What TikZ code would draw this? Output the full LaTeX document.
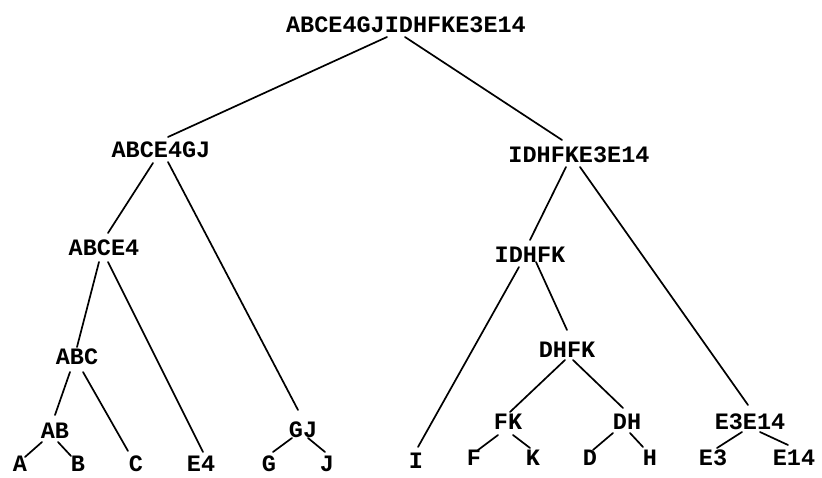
\documentclass[tikz,border=0pt]{standalone}
\usepackage{fontspec}
\setmonofont{Liberation Mono}
\begin{document}
\begin{tikzpicture}[x=1pt,y=-1pt,
  lbl/.style={inner sep=0pt,font=\ttfamily\bfseries\fontsize{23.5}{26}\selectfont},
  edge/.style={line width=1.7pt,line cap=round}]
\useasboundingbox (0,0) rectangle (822,478);
\newcommand\treeedge[6]{\draw[edge] ([shift={(#2,#3)}]#1.center) -- ([shift={(#5,#6)}]#4.center);}
% nodes
\node[lbl] (root) at (406,25) {ABCE4GJIDHFKE3E14};
\node[lbl] (l1) at (161,150) {ABCE4GJ};
\node[lbl] (r1) at (579,155) {IDHFKE3E14};
\node[lbl] (l2) at (104,248) {ABCE4};
\node[lbl] (r2) at (530,255) {IDHFK};
\node[lbl] (abc) at (77,357) {ABC};
\node[lbl] (dhfk) at (567,350) {DHFK};
\node[lbl] (ab) at (55,431) {AB};
\node[lbl] (gj) at (303,430) {GJ};
\node[lbl] (fk) at (508,422) {FK};
\node[lbl] (dh) at (627,422) {DH};
\node[lbl] (e3e14) at (750,422) {E3E14};
\node[lbl] (a) at (20,464) {A};
\node[lbl] (b) at (78,464) {B};
\node[lbl] (c) at (136,464) {C};
\node[lbl] (e4) at (201,464) {E4};
\node[lbl] (g) at (269,464) {G};
\node[lbl] (j) at (327,464) {J};
\node[lbl] (i) at (416,461) {I};
\node[lbl] (f) at (474,458) {F};
\node[lbl] (k) at (533,458) {K};
\node[lbl] (d) at (590,458) {D};
\node[lbl] (h) at (650,458) {H};
\node[lbl] (e3) at (713,458) {E3};
\node[lbl] (e14) at (794,458) {E14};
% edges
\treeedge{root}{-19}{12}{l1}{7}{-13}
\treeedge{root}{-1}{12}{r1}{-17}{-15}
\treeedge{l1}{-8}{13}{l2}{4}{-15}
\treeedge{l1}{7}{12}{gj}{-5}{-20}
\treeedge{l2}{-5}{14}{abc}{0}{-10}
\treeedge{l2}{4}{14}{e4}{2}{-12}
\treeedge{abc}{-7}{15}{ab}{0}{-16}
\treeedge{abc}{6}{15}{c}{-8}{-13}
\treeedge{ab}{-13}{11}{a}{5}{-7}
\treeedge{ab}{3}{11}{b}{-7}{-8}
\treeedge{gj}{-11}{8}{g}{4}{-12}
\treeedge{gj}{5}{8}{j}{-2}{-12}
\treeedge{r1}{-13}{12}{r2}{0}{-15}
\treeedge{r1}{1}{12}{e3e14}{-2}{-17}
\treeedge{r2}{-11}{12}{i}{2}{-14}
\treeedge{r2}{6}{7}{dhfk}{0}{-20}
\treeedge{dhfk}{-2}{10}{fk}{2}{-10}
\treeedge{dhfk}{6}{10}{dh}{-4}{-14}
\treeedge{fk}{-10}{13}{f}{4}{-8}
\treeedge{fk}{5}{13}{k}{-3}{-10}
\treeedge{dh}{-14}{11}{d}{3}{-8}
\treeedge{dh}{3}{11}{h}{-7}{-11}
\treeedge{e3e14}{-8}{10}{e3}{4}{-10}
\treeedge{e3e14}{10}{10}{e14}{-6}{-13}
\end{tikzpicture}
\end{document}
